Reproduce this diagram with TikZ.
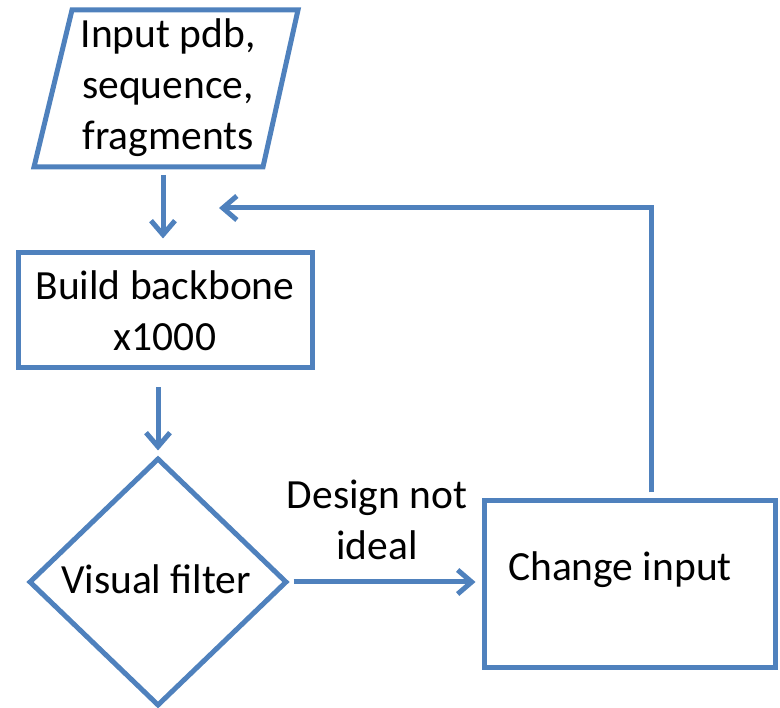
\documentclass[tikz,border=0pt]{standalone}
\usepackage{fontspec}
\setmainfont{Carlito}
\usetikzlibrary{shapes.geometric,arrows.meta}
\definecolor{flowblue}{HTML}{4F81BD}
\tikzset{
  outline/.style={draw=flowblue, line width=5pt, line join=miter},
  label/.style={font=\fontsize{41.5}{51}\selectfont, align=center, inner sep=0pt, text=black},
  boxnode/.style={outline, rectangle, inner sep=0pt},
  decision/.style={outline, diamond, inner sep=0pt, minimum width=258pt, minimum height=248pt},
  arr/.style={draw=flowblue, line width=5pt, -{Straight Barb[length=14pt,width=24pt,line width=5pt]}},
}
\begin{document}
\begin{tikzpicture}[x=1pt,y=-1pt]
  \useasboundingbox (0,0) rectangle (780,708);

  % input parallelogram
  \draw[outline] (72,10) -- (298,10) -- (263,167) -- (34,167) -- cycle;
  \node[label] (in) at (168,88) {Input pdb,\\sequence,\\fragments};
  \coordinate (inb) at (163,167);

  % process boxes
  \node[boxnode, label, draw=flowblue, minimum width=294pt, minimum height=115pt] (build) at (165,310.5)
    {Build backbone\\x1000};
  \node[decision] (filt) at (158,582) {};
  \node[label] at (156,579) {Visual filter};
  \node[boxnode, minimum width=291pt, minimum height=166pt] (chg) at (629.5,584) {};
  \node[label] at (620,570) {Change input};

  % connectors
  \draw[arr, shorten <=8pt, shorten >=12pt] (inb) -- (build.north -| inb);
  \draw[arr, shorten <=17pt, shorten >=5pt] (build.south -| filt) -- (filt.north);
  \draw[arr, shorten <=4pt, shorten >=6pt] (filt.east) -- (filt.east -| chg.west);
  \node[label] (why) at (377,520) {Design not\\ideal};
  \coordinate (up) at ([xshift=21.5pt, yshift=6pt]chg.north);
  \coordinate (ret) at (219,208);
  \draw[arr] (up) |- (ret);
\end{tikzpicture}
\end{document}
